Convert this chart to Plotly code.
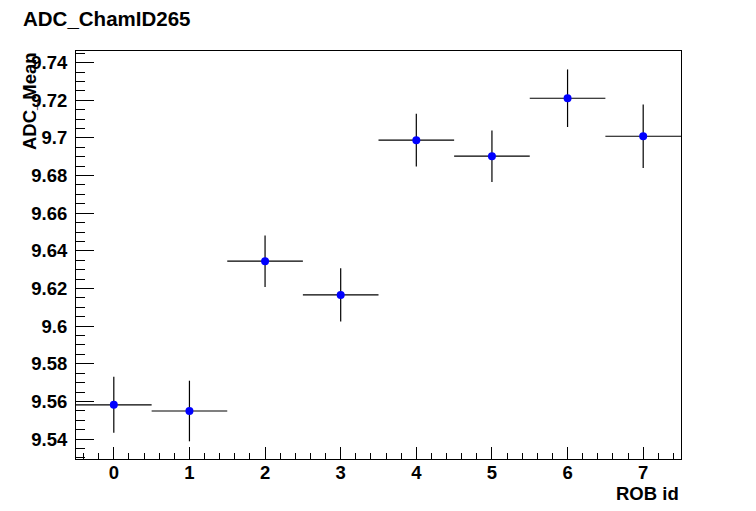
import plotly.graph_objects as go

rob_id = [0, 1, 2, 3, 4, 5, 6, 7]
adc_mean = [9.5582, 9.5549, 9.6345, 9.6166, 9.6988, 9.6903, 9.7211, 9.7009]
adc_err = [0.0149, 0.0161, 0.0137, 0.0142, 0.0140, 0.0137, 0.0153, 0.0169]
x_half_width = [0.5] * 8

W, H = 756, 511
OFF = 8  # page body margin offset
# frame in page pixels: x 76..681, y 51..459
L, T = 76 - OFF, 51 - OFF
pw, ph = 605, 408
R, B = W - L - pw, H - T - ph

def px(xp):
    return (xp - OFF - L) / pw

def py(yp):
    return (T + ph - (yp - OFF)) / ph

font_family = "Liberation Sans, Arial, Helvetica, sans-serif"
FS = 18.5

fig = go.Figure()
fig.add_trace(go.Scatter(
    x=rob_id, y=adc_mean, mode="markers",
    marker=dict(color="#0000ff", size=8, symbol="circle"),
    error_y=dict(type="data", array=adc_err, color="black", thickness=1.2, width=0),
    error_x=dict(type="data", array=x_half_width, color="black", thickness=1.2, width=0),
    showlegend=False,
))

axis_common = dict(
    showgrid=False, zeroline=False, showline=True, linecolor="black", linewidth=1,
    mirror=True, ticks="inside", tickcolor="black",
    tickfont=dict(family=font_family, size=FS, color="black", weight="bold"),
)

fig.update_xaxes(
    range=[-0.5, 7.5], dtick=1, tick0=0, ticklen=12, tickwidth=1,
    minor=dict(dtick=0.2, tick0=0, ticklen=6, ticks="inside", tickcolor="black", tickwidth=1),
    ticklabelstandoff=-3,
    **axis_common,
)
fig.update_yaxes(
    range=[9.5294, 9.7462], dtick=0.02, tick0=9.54, ticklen=18, tickwidth=1,
    minor=dict(dtick=0.005, tick0=9.54, ticklen=9, ticks="inside", tickcolor="black", tickwidth=1),
    ticklabelstandoff=4,
    **axis_common,
)

fig.add_annotation(
    text="ADC_ChamID265", xref="paper", yref="paper", x=px(21), y=py(18),
    xanchor="left", yanchor="middle", showarrow=False,
    font=dict(family=font_family, size=20.5, color="black", weight="bold"),
)
fig.add_annotation(
    text="ROB id", xref="paper", yref="paper", x=px(681), y=py(494),
    xanchor="right", yanchor="middle", showarrow=False,
    font=dict(family=font_family, size=FS, color="black", weight="bold"),
)
fig.add_annotation(
    text="ADC_Mean", xref="paper", yref="paper", x=px(29), y=py(50),
    xanchor="center", yanchor="top", textangle=-90, showarrow=False,
    font=dict(family=font_family, size=FS, color="black", weight="bold"),
)

fig.update_layout(
    width=W, height=H,
    margin=dict(l=L, r=R, t=T, b=B),
    paper_bgcolor="white", plot_bgcolor="white",
)

fig.write_html("out.html")
